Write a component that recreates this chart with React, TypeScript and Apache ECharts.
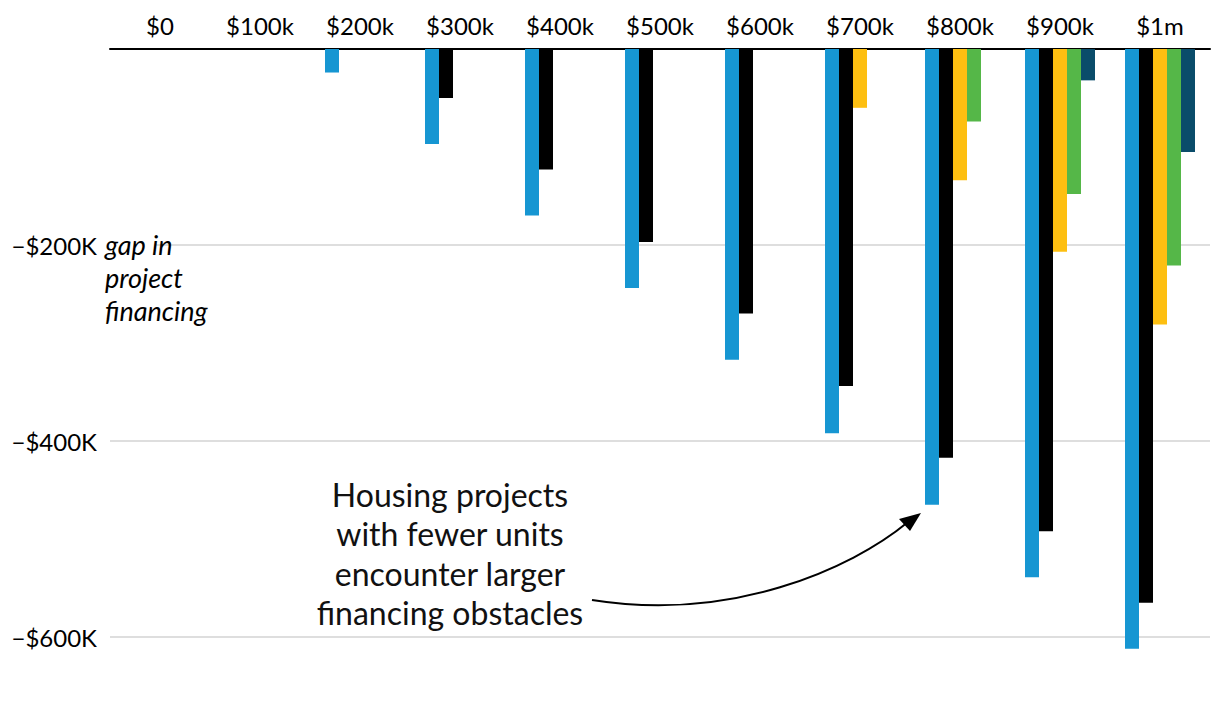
import React, { useEffect, useRef } from "react";
import * as echarts from "echarts";

const categories = ["$0", "$100k", "$200k", "$300k", "$400k", "$500k", "$600k", "$700k", "$800k", "$900k", "$1m"];
const seriesA = [null, null, -24, -97, -170, -244, -317, -392, -465, -539, -612];
const seriesB = [null, null, null, -50, -123, -197, -270, -344, -417, -492, -565];
const seriesC = [null, null, null, null, null, null, null, -60, -134, -207, -281];
const seriesD = [null, null, null, null, null, null, null, null, -74, -148, -221];
const seriesE = [null, null, null, null, null, null, null, null, null, -32, -105];
const seriesNames = ["Series 1", "Series 2", "Series 3", "Series 4", "Series 5"];
const seriesColors = ["#1696d2", "#000000", "#fdbf11", "#55b748", "#0a4c6a"];
const annotationLines = ["Housing projects", "with fewer units", "encounter larger", "financing obstacles"];

export default function App() {
  const ref = useRef<HTMLDivElement>(null);
  useEffect(() => {
    if (!ref.current) return;
    const chart = echarts.init(ref.current, null, { renderer: "svg" });
    const all = [seriesA, seriesB, seriesC, seriesD, seriesE];
    chart.setOption({
      animation: false,
      textStyle: { fontFamily: "Lato" },
      grid: { left: 110, right: 10, top: 49, bottom: 69, containLabel: false },
      xAxis: {
        type: "category",
        position: "top",
        data: categories,
        axisLine: { show: true, onZero: false, lineStyle: { color: "#000", width: 2 } },
        axisTick: { show: false },
        axisLabel: { color: "#000", fontSize: 24, fontFamily: "Lato", margin: 12 },
        splitLine: { show: false },
      },
      yAxis: {
        type: "value",
        min: -600,
        max: 0,
        interval: 200,
        axisLine: { show: false },
        axisTick: { show: false },
        splitLine: { show: true, lineStyle: { color: "#dedede", width: 2 } },
        axisLabel: {
          color: "#000",
          fontSize: 24,
          fontFamily: "Lato",
          margin: 13,
          formatter: (v: number) => (v === 0 ? "" : "\u2212$" + -v + "K"),
        },
      },
      series: all.map((d, i) => ({
        type: "bar",
        name: seriesNames[i],
        data: d,
        barWidth: 14,
        barGap: "0%",
        clip: false,
        itemStyle: { color: seriesColors[i] },
      })),
      graphic: [
        {
          type: "rect",
          shape: { x: 103, y: 234, width: 52, height: 22 },
          style: { fill: "#fff" },
          z: 100,
        },
        {
          type: "text",
          x: 105,
          y: 228,
          z: 101,
          style: {
            text: "gap in\nproject\nfinancing",
            fill: "#000",
            font: "italic 27px Lato",
            lineHeight: 33,
            align: "left",
            verticalAlign: "top",
          },
        },
        {
          type: "text",
          x: 450,
          y: 475,
          z: 101,
          style: {
            text: annotationLines.join("\n"),
            fill: "#111",
            font: "32px Lato",
            lineHeight: 39.3,
            align: "center",
            verticalAlign: "top",
          },
        },
        {
          type: "bezierCurve",
          z: 101,
          shape: { x1: 592, y1: 600, x2: 908, y2: 522, cpx1: 730, cpy1: 622, cpx2: 850, cpy2: 570 },
          style: { stroke: "#000", lineWidth: 2, fill: "none" },
        },
        {
          type: "polygon",
          z: 102,
          shape: { points: [[921, 513], [899, 519], [910, 531]] },
          style: { fill: "#000" },
        },
      ],
    });
    return () => chart.dispose();
  }, []);
  return (
    <div
      ref={ref}
      style={{ position: "absolute", left: 0, top: 0, width: 1220, height: 706 }}
    />
  );
}
